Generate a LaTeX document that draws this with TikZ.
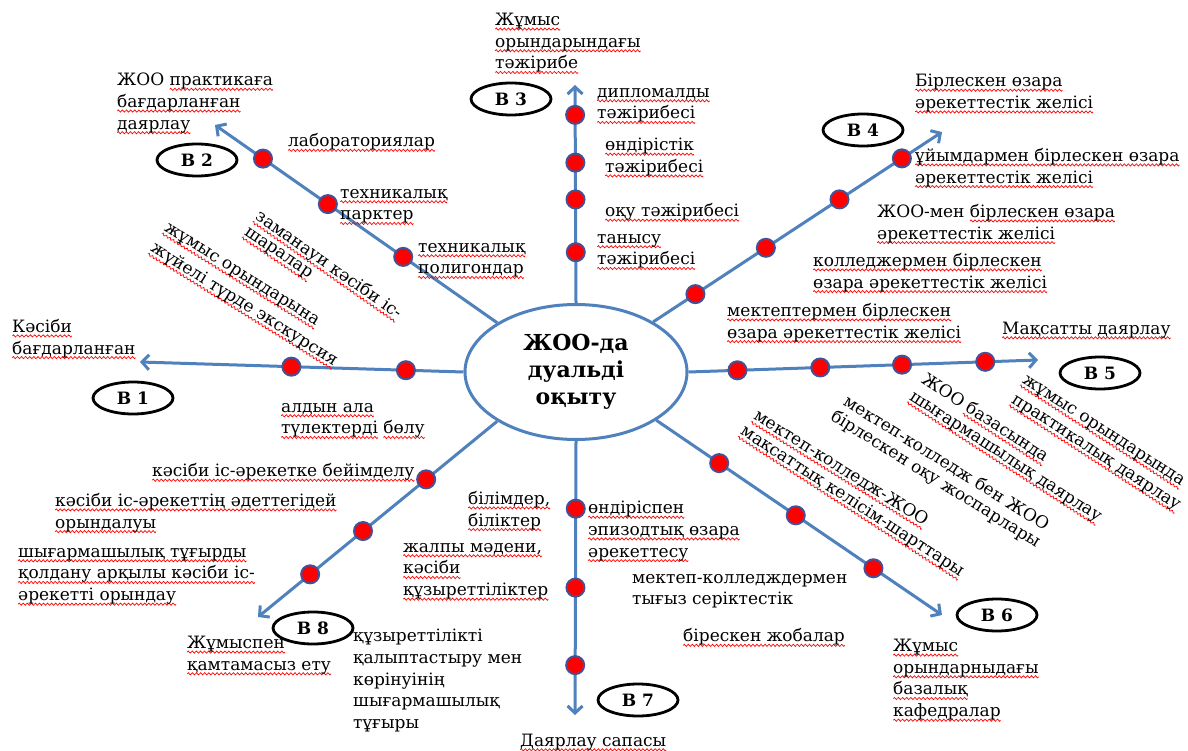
\documentclass[tikz,border=0pt]{standalone}
\usepackage{fontspec}
\setmainfont{DejaVu Serif}
\usetikzlibrary{shapes.geometric,arrows.meta}
\definecolor{spokeblue}{RGB}{79,129,189}
\definecolor{dotrim}{RGB}{70,80,150}
\newsavebox\wavebox
\newsavebox\rwtext
\newcommand\rw[1]{\sbox\rwtext{#1}\leavevmode\rlap{\lower3.5pt\hbox to\wd\rwtext{\xleaders\copy\wavebox\hfill}}\usebox\rwtext}
\newcommand\lblfont{\fontsize{17}{21.7}\selectfont}
\newcommand\badgefont{\fontsize{17}{20}\selectfont\bfseries}
\newcommand\centerfont{\fontsize{22}{27}\selectfont\bfseries}
\tikzset{
  spoke/.style={draw=spokeblue, line width=3pt, -{Straight Barb[length=7pt,width=15pt]}},
  dot/.style={circle, fill=red, draw=dotrim, line width=2pt, minimum size=18pt, inner sep=0pt},
  badge/.style={ellipse, draw=black, line width=2.8pt, minimum width=80pt, minimum height=32pt, inner sep=0pt, font=\badgefont},
  lbl/.style={align=left, inner sep=0pt, anchor=north west, font=\lblfont},
  slbl/.style={inner sep=0pt, anchor=west, font=\lblfont},
  rlbl/.style={inner sep=0pt, anchor=west, rotate=-#1, font=\lblfont},
  hub/.style={draw=spokeblue, line width=3pt, ellipse, minimum width=222pt, minimum height=135pt, inner sep=0pt, align=center, font=\centerfont, fill=white}
}
\begin{document}
\sbox\wavebox{\begin{pgfpicture}%
\pgfsetlinewidth{0.7pt}\pgfsetstrokecolor{red}%
\pgfpathmoveto{\pgfpoint{0pt}{0pt}}%
\pgfpathlineto{\pgfpoint{1pt}{1.1pt}}%
\pgfpathlineto{\pgfpoint{3pt}{-1.1pt}}%
\pgfpathlineto{\pgfpoint{4pt}{0pt}}%
\pgfusepath{stroke}%
\pgfresetboundingbox
\pgfpathrectangle{\pgfpointorigin}{\pgfpoint{4pt}{0pt}}%
\pgfusepath{use as bounding box}%
\end{pgfpicture}}%
\begin{tikzpicture}[x=1pt,y=-1pt]
\fill[white] (0,0) rectangle (1188,751);
\useasboundingbox (0,0) rectangle (1188,751);

% hub
\node[hub] (C) at (576,372) {ЖОО-да\\дуальді\\оқыту};

% arrow ends
\coordinate (t1) at (140,362);
\coordinate (t2) at (215,125);
\coordinate (t3) at (575,85);
\coordinate (t4) at (942,132);
\coordinate (t5) at (1038,360);
\coordinate (t6) at (942,615);
\coordinate (t7) at (575,715);
\coordinate (t8) at (258,617);

% spokes
\draw[spoke] (C.180) -- (t1);
\draw[spoke] (C.148) -- (t2);
\draw[spoke] (C.90) -- (t3);
\draw[spoke] (C.33) -- (t4);
\draw[spoke] (C.0) -- (t5);
\draw[spoke] (C.329) -- (t6);
\draw[spoke] (C.270) -- (t7);
\draw[spoke] (C.212) -- (t8);

% dots
\path (C.180) -- (t1) node[dot,pos=0.178] (d11) {} node[dot,pos=0.532] (d12) {};
\path (C.148) -- (t2) node[dot,pos=0.333] (d21) {} node[dot,pos=0.600] (d22) {} node[dot,pos=0.830] (d23) {};
\path (C.90) -- (t3) node[dot,pos=0.233] (d31) {} node[dot,pos=0.475] (d32) {} node[dot,pos=0.644] (d33) {} node[dot,pos=0.863] (d34) {};
\path (C.33) -- (t4) node[dot,pos=0.146] (d41) {} node[dot,pos=0.390] (d42) {} node[dot,pos=0.645] (d43) {} node[dot,pos=0.861] (d44) {};
\path (C.0) -- (t5) node[dot,pos=0.140] (d51) {} node[dot,pos=0.377] (d52) {} node[dot,pos=0.611] (d53) {} node[dot,pos=0.849] (d54) {};
\path (C.329) -- (t6) node[dot,pos=0.220] (d61) {} node[dot,pos=0.488] (d62) {} node[dot,pos=0.760] (d63) {};
\path (C.270) -- (t7) node[dot,pos=0.247] (d71) {} node[dot,pos=0.535] (d72) {} node[dot,pos=0.818] (d73) {};
\path (C.212) -- (t8) node[dot,pos=0.297] (d81) {} node[dot,pos=0.561] (d82) {} node[dot,pos=0.782] (d83) {};

% badges
\node[badge] (B1) at (133,398) {B 1};
\node[badge] (B2) at (197,160) {B 2};
\node[badge] (B3) at (511,99) {B 3};
\node[badge] (B4) at (863,130) {B 4};
\node[badge] (B5) at (1100,373) {B 5};
\node[badge] (B6) at (997,615) {B 6};
\node[badge] (B7) at (638,700) {B 7};
\node[badge] (B8) at (313,628) {B 8};

% B1 labels
\node[lbl] (l1a) at (12,319) {\rw{Кәсіби}\\\rw{бағдарланған}};
\node[lbl] (l1b) at (281,403) {\rw{алдын ала}\\\rw{түлектерді}  \rw{бөлу}};
\node[rlbl=35] (l1c) at (257,215) {\rw{заманауи кәсіби іс-}};
\node[rlbl=34] (l1d) at (245,232) {\rw{шаралар}};
\node[rlbl=32] (l1e) at (165,228) {\rw{жұмыс орындарына}};
\node[rlbl=32] (l1f) at (152,247) {\rw{жүйелі түрде экскурсия}};

% B2 labels
\node[lbl] (l2a) at (117,73) {ЖОО \rw{практикаға}\\\rw{бағдарланған}\\\rw{даярлау}};
\node[slbl] (l2b) at (288,142) {\rw{лабораториялар}};
\node[lbl] (l2c) at (340,189) {\rw{техникалық}\\\rw{парктер}};
\node[lbl] (l2d) at (418,243) {\rw{техникалық}\\\rw{полигондар}};

% B3 labels
\node[lbl] (l3a) at (495,13) {\rw{Жұмыс}\\\rw{орындарындағы}\\\rw{тәжірибе}};
\node[lbl] (l3b) at (597,88) {\rw{дипломалды}\\\rw{тәжірибесі}};
\node[lbl] (l3c) at (605,138) {\rw{өндірістік}\\\rw{тәжірибесі}};
\node[slbl] (l3d) at (605,212) {\rw{оқу тәжірибесі}};
\node[lbl] (l3e) at (597,234) {\rw{танысу}\\\rw{тәжірибесі}};

% B4 labels
\node[lbl] (l4a) at (915,74) {\rw{Бірлескен өзара}\\\rw{әрекеттестік желісі}};
\node[lbl] (l4b) at (915,148) {\rw{ұйымдармен бірлескен өзара}\\\rw{әрекеттестік желісі}};
\node[lbl] (l4c) at (877,204) {ЖОО-мен  \rw{бірлескен өзара}\\\rw{әрекеттестік желісі}};
\node[lbl] (l4d) at (813,253) {\rw{колледжермен бірлескен}\\\rw{өзара әрекеттестік желісі}};
\node[lbl] (l4e) at (727,303) {\rw{мектептермен бірлескен}\\\rw{өзара әрекеттестік желісі}};

% B5 labels
\node[slbl] (l5a) at (1002,330) {\rw{Мақсатты даярлау}};
\node[rlbl=33] (l5b) at (923,378) {ЖОО \rw{базасында}};
\node[rlbl=33] (l5c) at (910,397) {\rw{шығармашылық даярлау}};
\node[rlbl=33] (l5d) at (1023,380) {\rw{жұмыс орындарында}};
\node[rlbl=33] (l5e) at (1012,400) {\rw{практикалық даярлау}};
\node[rlbl=32] (l5f) at (845,400) {мектеп-колледж бен ЖОО};
\node[rlbl=32] (l5g) at (832,415) {бірлескен оқу жоспарлары};
\node[rlbl=32] (l5h) at (755,415) {\rw{мектеп-колледж-ЖОО}};
\node[rlbl=33] (l5i) at (742,430) {\rw{мақсаттық келісім-шарттары}};

% B6 labels
\node[lbl] (l6a) at (893,639) {\rw{Жұмыс}\\\rw{орындарныдағы}\\\rw{базалық}\\\rw{кафедралар}};

% B7 labels
\node[slbl] (l7a) at (520,742) {\rw{Даярлау сапасы}};
\node[lbl] (l7b) at (588,501) {\rw{өндіріспен}\\\rw{эпизодтық өзара}\\\rw{әрекеттесу}};
\node[lbl] (l7c) at (632,574) {мектеп-колледждермен\\тығыз серіктестік};
\node[slbl] (l7d) at (683,637) {\rw{бірескен жобалар}};
\node[lbl] (l7e) at (468,491) {\rw{білімдер,}\\\rw{біліктер}};
\node[lbl] (l7f) at (403,543) {\rw{жалпы мәдени,}\\\rw{кәсіби}\\\rw{құзыреттіліктер}};
\node[lbl] (l7g) at (353,629) {құзыреттілікті\\қалыптастыру мен\\көрінуінің\\шығармашылық\\тұғыры};

% B8 labels
\node[slbl] (l8a) at (152,472) {\rw{кәсіби іс-әрекетке бейімделу}};
\node[lbl] (l8b) at (55,493) {\rw{кәсіби іс-әрекеттің әдеттегідей}\\\rw{орындалуы}};
\node[lbl] (l8c) at (18,548) {\rw{шығармашылық тұғырды}\\\rw{қолдану арқылы кәсіби іс-}\\\rw{әрекетті орындау}};
\node[lbl] (l8d) at (187,636) {\rw{Жұмыспен}\\\rw{қамтамасыз ету}};
\end{tikzpicture}
\end{document}
